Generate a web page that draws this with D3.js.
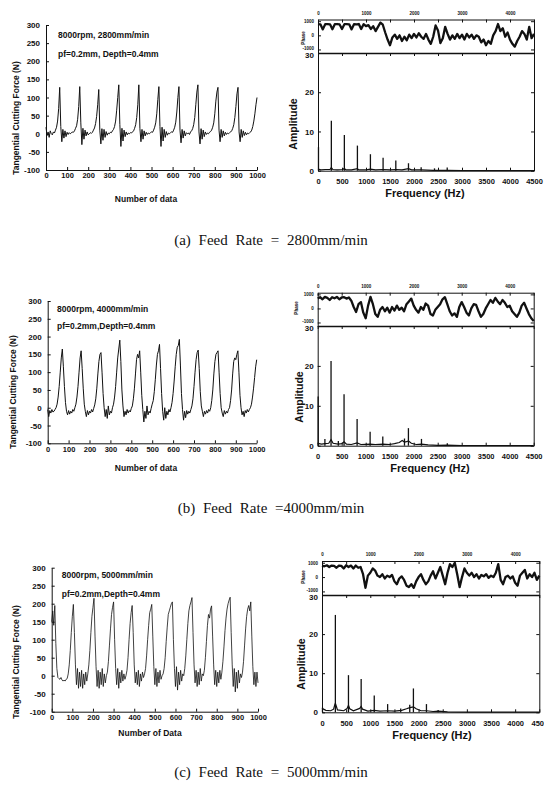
<!DOCTYPE html>
<html>
<head>
<meta charset="utf-8">
<script src="https://cdn.jsdelivr.net/npm/d3@7"></script>
<style>
body { margin: 0; background: #fff; }
svg text { font-family: "Liberation Sans", Arial, sans-serif; font-weight: bold; fill: #111; }
svg text.caption { font-family: "Liberation Serif", "DejaVu Serif", serif; font-weight: normal; font-size: 15px; word-spacing: 4px; }
</style>
</head>
<body>
<svg id="chart" width="544" height="785"></svg>
<script>
// cutting force samples, one value every 5 data points (0..1000)
const forceStep = 5;
const forceA = [18,-5,5,-10,8,0,-3,5,2,10, 18,35,70,128,20,-22,12,-12,8,-8, 4,-2,3,0,2,5,4,8,15,22,
  40,75,130,30,-30,15,-15,10,-6,5, -3,0,3,1,4,10,16,28,48,80, 122,10,-28,14,-18,12,-10,6,-4,2,
  0,4,3,8,12,20,35,65,100,135, 25,-35,15,-20,10,-8,5,-3,2,0, 3,2,5,8,15,25,45,80,135,15,
  -22,12,-15,8,-6,4,-2,2,0,3, 5,4,10,18,30,55,95,130,20,-35, 18,-20,12,-10,6,-4,2,0,3,5,
  4,10,18,32,60,100,130,10,-25,12, -12,8,-6,3,0,2,-2,5,8,14, 25,45,80,115,135,5,-28,14,-15,10,
  -8,5,-2,2,0,4,6,10,18,30, 55,90,115,128,10,-22,12,-10,8,-6, 4,-2,2,0,3,5,8,15,25,45,
  75,110,128,5,-22,12,-10,8,-5,4, -3,2,0,3,5,10,20,35,55,80, 100];
const forceB = [-5,-25,-8,-15,-5,-12,-10,-5,0,10, 30,60,100,140,165,115,60,15,-10,-20, -8,-18,-10,-15,-5,-10,0,10,30,60,
  100,140,160,110,55,10,-10,-25,-8,-20, -10,-15,-5,-12,-2,8,25,55,95,130, 150,155,100,40,0,-25,-5,-30,5,-20,
  -10,-15,0,10,30,60,100,140,165,190, 130,50,5,-25,-10,-20,-5,-15,-8,-12, -2,5,25,55,95,135,150,140,160,100,
  35,-5,-40,-10,-30,5,-20,-10,-15,-2, 10,20,45,80,120,150,160,178,110,40, -10,-35,0,-30,-10,-20,-5,-12,0,15,
  40,75,115,150,170,175,192,120,40,-5, -35,-10,-28,-8,-18,-10,-15,-5,5,25, 60,100,135,155,162,110,45,5,-10,-25,
  -10,-18,-8,-15,-5,-10,0,20,50,95, 130,150,155,160,100,40,0,-15,-25,-8, -18,-10,-15,-5,0,20,50,95,130,140,
  135,150,160,100,35,0,-20,-10,-25,-8, -15,-5,-12,-5,0,10,30,55,85,115, 135];
const forceC = [150,180,140,195,90,20,-5,-8,-10,-5, -12,-15,-12,-15,-10,-8,5,30,70,120, 165,198,120,30,-25,20,-35,10,-30,15,
  -35,5,-25,10,-15,5,30,70,120,165, 190,215,110,25,-30,15,-35,10,-25,20, -30,5,-20,0,10,40,85,130,170,190,
  205,100,20,-25,20,-35,10,-20,15,-15, 5,-10,0,15,50,100,145,175,195,120, 30,-20,10,-25,15,-30,5,-15,10,-5,
  5,20,55,100,140,175,185,198,110,25, -25,20,-30,10,-20,15,-10,0,5,20, 50,95,135,170,180,190,200,205,100,20,
  -30,25,-40,10,-25,15,-15,5,0,20, 55,100,145,180,195,205,217,120,30,-20, 15,-30,10,-25,20,-15,5,0,15,50,
  95,140,170,160,185,194,110,30,-25,15, -30,10,-20,15,-10,10,40,80,125,160, 185,200,210,218,120,30,-30,20,-45,10,
  -35,15,-20,5,-5,10,40,85,130,165, 185,195,180,205,110,25,-25,10,-30,10, -20];

// phase traces, one value every 50 Hz (0..4500)
const phaseStep = 50;
const phaseA = [800,780,420,790,800,780,430,790,800,770, 450,790,800,780,420,790,780,800,450,790,
  650,720,450,650,300,600,900,750,200,-300, -700,-150,50,-250,0,-400,-100,-350,50,-200,
  100,-150,150,-100,-250,100,-300,-600,-100,700, 350,-550,-200,600,100,-300,0,-250,100,-200,
  50,-300,100,-150,50,-250,0,-100,-500,-300, -700,-400,-600,0,300,800,300,500,-100,200,
  -300,-600,-800,-400,-100,300,100,-300,600,-200, 100];
const phaseB = [700,800,650,820,750,600,800,720,820,650, 780,800,700,780,550,100,-250,300,450,-300,
  -700,200,820,300,-400,-600,-100,100,-200,50, -300,100,-150,200,-100,50,-200,300,500,700,
  200,-100,-300,100,-100,350,200,-400,-500,-100, 100,300,650,800,300,-200,-500,-350,-600,100,
  450,100,-300,-500,0,300,250,-200,-600,-400, 0,300,600,400,750,500,300,600,400,100,
  200,-200,-400,-600,-300,200,400,0,-400,-700, -900];
const phaseC = [800,750,820,700,800,780,650,800,780,600, 820,700,800,600,800,650,700,200,-750,100,
  300,600,450,100,0,200,-100,100,0,150, -300,-500,-100,50,-200,-600,-700,-500,-750,-300,
  0,200,-200,-500,-300,100,400,-100,300,700, 100,-500,300,900,700,1000,200,-700,0,600,
  300,100,300,0,200,-100,150,50,200,-50, 100,0,300,900,-200,-500,0,100,-100,50,
  -400,-600,100,300,500,-100,200,0,300,-200, 100];

// spectrum peaks (Hz, amplitude)
const peakFreqA = [10, 278, 549, 821, 1092, 1356, 1621, 1885, 2149, 2427, 2692];
const peakAmpA  = [6.0, 12.7, 9.1, 6.4, 4.2, 3.3, 2.6, 1.9, 0.85, 0.6, 0.8];
const peakFreqB = [10, 150, 278, 430, 549, 821, 1092, 1356, 1808, 1890, 2162, 2700];
const peakAmpB  = [12.3, 1.7, 21.2, 1.2, 12.9, 6.7, 3.5, 2.3, 1.8, 4.4, 1.7, 0.6];
const peakFreqC = [10, 277, 548, 811, 1082, 1359, 1630, 1817, 1893, 2163, 2405];
const peakAmpC  = [1.2, 24.9, 9.5, 8.5, 4.3, 2.1, 1.0, 1.9, 6.1, 2.1, 0.6];

// spectrum noise floor (Hz, amplitude)
const floorA = [[0,0.4],[60,0.2],[150,0.3],[250,0.3],[278,0.8],[310,0.3],[400,0.2],[520,0.3],[549,0.6],[580,0.2],
  [700,0.2],[821,0.5],[850,0.2],[1000,0.2],[1092,0.4],[1200,0.2],[1356,0.3],[1500,0.2],[1621,0.3],[1750,0.2],
  [1885,0.5],[1950,0.2],[2150,0.2],[2400,0.1],[2700,0.1],[3000,0.05],[4500,0.05]];
const floorB = [[0,0.6],[80,0.4],[150,0.5],[230,0.6],[278,1.5],[320,0.6],[430,0.4],[500,0.5],[549,1.0],[600,0.4],
  [700,0.3],[821,0.7],[900,0.3],[1092,0.4],[1200,0.3],[1356,0.4],[1500,0.3],[1600,0.5],[1700,0.8],[1760,1.3],
  [1808,0.9],[1850,1.0],[1890,1.2],[1950,0.6],[2050,0.3],[2162,0.4],[2300,0.2],[2500,0.1],[2700,0.15],[3000,0.05],[4500,0.05]];
const floorC = [[0,1.0],[80,0.5],[180,0.4],[240,0.8],[262,1.8],[277,2.3],[295,1.6],[320,0.6],[450,0.4],[520,1.0],
  [548,1.8],[575,0.9],[650,0.4],[780,1.0],[811,1.5],[840,0.8],[950,0.3],[1082,0.5],[1200,0.3],[1359,0.4],
  [1500,0.3],[1650,0.5],[1750,0.9],[1817,1.2],[1893,1.4],[1950,0.9],[2050,0.4],[2163,0.4],[2300,0.2],[2405,0.3],
  [2600,0.1],[3000,0.05],[4500,0.05]];

// tick values
const forceTicksY = [-100, -50, 0, 50, 100, 150, 200, 250, 300];
const forceTicksX = [0, 100, 200, 300, 400, 500, 600, 700, 800, 900, 1000];
const freqTicks = [0, 500, 1000, 1500, 2000, 2500, 3000, 3500, 4000, 4500];
const ampTicks = [0, 10, 20, 30];
const phaseTicks = [-1000, 0, 1000];

const svg = d3.select("#chart");
const ink = "#111";
const plain = d => String(d);

function styleAxis(sel, size) {
  sel.attr("font-family", null).attr("font-size", null);
  sel.selectAll("text").style("font-size", size + "px");
  sel.selectAll("path, line").attr("stroke", ink);
}

function drawForce(cfg) {
  const g = svg.append("g");
  const x = d3.scaleLinear().domain([0, 1000]).range([cfg.x0, cfg.x1]);
  const y = d3.scaleLinear().domain([-100, 300]).range([cfg.yBot, cfg.yTop]);

  g.append("g").attr("transform", "translate(" + cfg.x0 + ",0)")
    .call(d3.axisLeft(y).tickValues(forceTicksY).tickFormat(plain).tickSize(-3).tickSizeOuter(0).tickPadding(6))
    .call(styleAxis, 8);
  g.append("g").attr("transform", "translate(0," + cfg.yBot + ")")
    .call(d3.axisBottom(x).tickValues(forceTicksX).tickFormat(plain).tickSize(-3).tickSizeOuter(0).tickPadding(3))
    .call(styleAxis, 7.5);

  const line = d3.line().x((d, i) => x(i * forceStep)).y(d => y(d));
  g.append("path").datum(cfg.data)
    .attr("fill", "none").attr("stroke", ink)
    .attr("stroke-width", cfg.lw).attr("stroke-linejoin", "round")
    .attr("d", line);

  g.append("text").attr("x", cfg.noteX).attr("y", cfg.note1Y).style("font-size", "8.5px").text(cfg.note1);
  g.append("text").attr("x", cfg.noteX).attr("y", cfg.note2Y).style("font-size", "8.5px").text(cfg.note2);
  g.append("text").attr("x", cfg.titleX).attr("y", cfg.titleY).attr("text-anchor", "middle")
    .style("font-size", "8.5px").text(cfg.xTitle);
  g.append("text").attr("transform", "translate(" + cfg.yLabelX + "," + cfg.yLabelY + ") rotate(-90)")
    .attr("text-anchor", "middle").attr("dy", "0.35em").style("font-size", "8.5px")
    .text("Tangential Cutting Force (N)");
}

function drawSpectrum(cfg) {
  const g = svg.append("g");
  const x = d3.scaleLinear().domain([0, 4500]).range([cfg.x0, cfg.x1]);
  const yA = d3.scaleLinear().domain([0, 30]).range([cfg.ampBot, cfg.sep]);
  const yP = d3.scaleLinear().domain([-1250, 1120]).range([cfg.sep, cfg.phaseTop]);

  // phase panel
  g.append("g").attr("transform", "translate(0," + cfg.phaseTop + ")")
    .call(d3.axisTop(x).tickValues(freqTicks).tickSize(-3).tickSizeOuter(0).tickPadding(5)
      .tickFormat(d => (d % 1000 === 0 && d < 4500) ? String(d) : ""))
    .call(styleAxis, 4.5);
  g.append("g").attr("transform", "translate(" + cfg.x0 + ",0)")
    .call(d3.axisLeft(yP).tickValues(phaseTicks).tickFormat(plain).tickSize(-3).tickSizeOuter(0).tickPadding(4))
    .call(styleAxis, 4.5)
    .selectAll(".tick text").attr("dy", d => d < 0 ? "0.1em" : "0.32em");
  g.append("g").attr("transform", "translate(" + cfg.x1 + ",0)")
    .call(d3.axisRight(yP).tickValues(phaseTicks).tickSize(-3).tickSizeOuter(0).tickFormat(""))
    .call(styleAxis, 4.5);
  const pLine = d3.line().x((d, i) => x(i * phaseStep)).y(d => yP(d));
  g.append("path").datum(cfg.phase)
    .attr("fill", "none").attr("stroke", ink).attr("stroke-width", 2.3)
    .attr("stroke-linejoin", "round").attr("d", pLine);
  g.append("text").attr("transform", "translate(" + cfg.phaseLabelX + "," + cfg.phaseLabelY + ") rotate(-90)")
    .attr("text-anchor", "middle").attr("dy", "0.35em").style("font-size", "4.5px").text("Phase");

  // amplitude panel
  g.append("g").attr("transform", "translate(0," + cfg.ampBot + ")")
    .call(d3.axisBottom(x).tickValues(freqTicks).tickFormat(plain).tickSize(-3).tickSizeOuter(0).tickPadding(8))
    .call(styleAxis, 7.5);
  g.append("g").attr("transform", "translate(0," + cfg.sep + ")")
    .call(d3.axisTop(x).tickValues(freqTicks).tickSize(-3).tickSizeOuter(0).tickFormat(""))
    .call(styleAxis, 7.5)
    .select(".domain").attr("stroke-width", 1.4);
  g.append("g").attr("transform", "translate(" + cfg.x0 + ",0)")
    .call(d3.axisLeft(yA).tickValues(ampTicks).tickFormat(plain).tickSize(-3).tickSizeOuter(0).tickPadding(4))
    .call(styleAxis, 8)
    .selectAll(".tick text").attr("dy", d => d === 30 ? "0.6em" : "0.32em");
  g.append("g").attr("transform", "translate(" + cfg.x1 + ",0)")
    .call(d3.axisRight(yA).tickValues(ampTicks).tickSize(-3).tickSizeOuter(0).tickFormat(""))
    .call(styleAxis, 8);

  const fLine = d3.line().x(d => x(d[0])).y(d => yA(d[1]));
  g.append("path").datum(cfg.floor)
    .attr("fill", "none").attr("stroke", ink).attr("stroke-width", 1.2).attr("d", fLine);

  g.selectAll("line.stem").data(cfg.freqs).join("line")
    .attr("class", "stem")
    .attr("x1", d => x(d)).attr("x2", d => x(d))
    .attr("y1", yA(0)).attr("y2", (d, i) => yA(cfg.amps[i]))
    .attr("stroke", ink).attr("stroke-width", 1.3);

  g.append("text").attr("x", cfg.titleX).attr("y", cfg.titleY).attr("text-anchor", "middle")
    .style("font-size", "11px").text("Frequency (Hz)");
  g.append("text").attr("transform", "translate(" + cfg.ampLabelX + "," + cfg.ampLabelY + ") rotate(-90)")
    .attr("text-anchor", "middle").attr("dy", "0.35em").style("font-size", "10.5px").text("Amplitude");
}

function caption(txt, y) {
  svg.append("text").attr("class", "caption").attr("x", 271).attr("y", y)
    .attr("text-anchor", "middle").text(txt);
}

drawForce({ data: forceA, lw: 1, x0: 46, x1: 257, yTop: 25, yBot: 170,
  noteX: 58, note1Y: 38, note2Y: 56.5, note1: "8000rpm, 2800mm/min", note2: "pf=0.2mm, Depth=0.4mm",
  titleX: 146, titleY: 201.5, xTitle: "Number of data", yLabelX: 16, yLabelY: 118 });
drawSpectrum({ phase: phaseA, floor: floorA, freqs: peakFreqA, amps: peakAmpA,
  x0: 318, x1: 534, phaseTop: 19.5, sep: 53, ampBot: 170.7,
  phaseLabelX: 303, phaseLabelY: 38, titleX: 425, titleY: 197, ampLabelX: 293, ampLabelY: 124 });
caption("(a) Feed Rate = 2800mm/min", 245);

drawForce({ data: forceB, lw: 1, x0: 47.7, x1: 256.7, yTop: 301, yBot: 443.3,
  noteX: 57, note1Y: 311.5, note2Y: 329, note1: "8000rpm, 4000mm/min", note2: "pf=0.2mm,Depth=0.4mm",
  titleX: 146, titleY: 471, xTitle: "Number of data", yLabelX: 13, yLabelY: 392 });
drawSpectrum({ phase: phaseB, floor: floorB, freqs: peakFreqB, amps: peakAmpB,
  x0: 317.7, x1: 533.7, phaseTop: 292.7, sep: 326, ampBot: 445.7,
  phaseLabelX: 296, phaseLabelY: 308, titleX: 430, titleY: 472, ampLabelX: 299, ampLabelY: 397 });
caption("(b) Feed Rate =4000mm/min", 513);

drawForce({ data: forceC, lw: 0.8, x0: 51.7, x1: 258, yTop: 567.7, yBot: 711.7,
  noteX: 61.7, note1Y: 578, note2Y: 596.5, note1: "8000rpm, 5000mm/min", note2: "pf=0.2mm,Depth=0.4mm",
  titleX: 150, titleY: 736, xTitle: "Number of Data", yLabelX: 16, yLabelY: 662 });
drawSpectrum({ phase: phaseC, floor: floorC, freqs: peakFreqC, amps: peakAmpC,
  x0: 322, x1: 539.3, phaseTop: 561, sep: 595, ampBot: 712.3,
  phaseLabelX: 303, phaseLabelY: 577, titleX: 432, titleY: 739, ampLabelX: 301, ampLabelY: 664 });
caption("(c) Feed Rate = 5000mm/min", 777);
</script>
</body>
</html>
